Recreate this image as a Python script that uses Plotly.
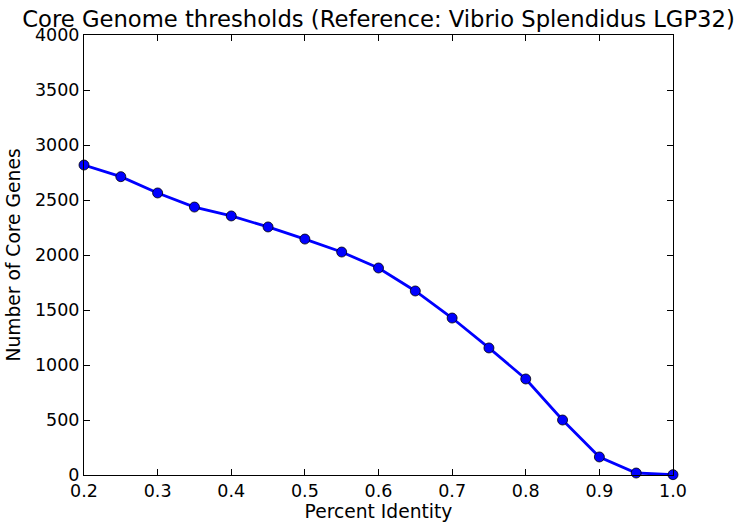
import plotly.graph_objects as go

percent_identity = [0.2, 0.25, 0.3, 0.35, 0.4, 0.45, 0.5, 0.55, 0.6, 0.65, 0.7, 0.75, 0.8, 0.85, 0.9, 0.95, 1.0]
core_genes = [2818, 2712, 2564, 2436, 2355, 2255, 2145, 2027, 1882, 1673, 1427, 1155, 873, 500, 164, 18, 3]

x_ticks = [0.2, 0.3, 0.4, 0.5, 0.6, 0.7, 0.8, 0.9, 1.0]
x_tick_labels = ["0.2", "0.3", "0.4", "0.5", "0.6", "0.7", "0.8", "0.9", "1.0"]
y_ticks = [0, 500, 1000, 1500, 2000, 2500, 3000, 3500, 4000]

font_family = "DejaVu Sans"
tick_size = 17.5
label_size = 18.7
title_size = 22.7

fig = go.Figure()
fig.add_trace(go.Scatter(
    x=percent_identity, y=core_genes, mode="lines+markers",
    line=dict(color="#0000ff", width=2.8),
    marker=dict(color="#0000ff", size=10, line=dict(color="black", width=0.8)),
    cliponaxis=False,
))

axis_common = dict(
    showgrid=False, zeroline=False, showline=True, linecolor="black", linewidth=1,
    mirror="ticks", ticks="inside", ticklen=6, tickcolor="black", tickwidth=1,
    tickfont=dict(family=font_family, size=tick_size, color="black"),
    automargin=False,
)

fig.update_layout(
    width=736, height=522,
    margin=dict(l=84, r=63, t=35, b=47),
    paper_bgcolor="white", plot_bgcolor="white",
    showlegend=False,
    title=dict(text="Core Genome thresholds (Reference: Vibrio Splendidus LGP32)",
               x=378.5 / 736, xanchor="center", y=1 - 27 / 522, yanchor="bottom",
               font=dict(family=font_family, size=title_size, color="black")),
    xaxis=dict(range=[0.2, 1.0], tickvals=x_ticks, ticktext=x_tick_labels,
               title=dict(text="Percent Identity", font=dict(family=font_family, size=label_size, color="black"), standoff=1),
               **axis_common),
    yaxis=dict(range=[0, 4000], tickvals=y_ticks,
               title=dict(text="Number of Core Genes", font=dict(family=font_family, size=label_size, color="black"), standoff=9),
               **axis_common),
)

fig.write_html("out.html")
